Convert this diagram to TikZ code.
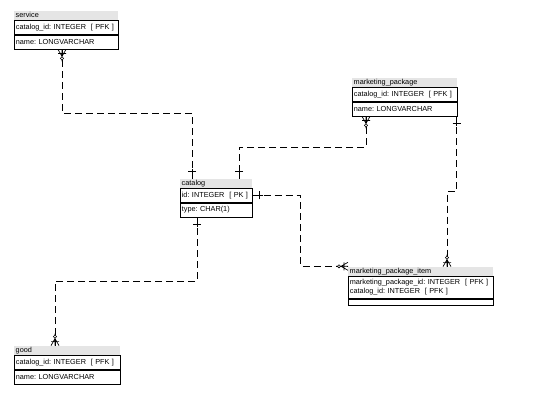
\documentclass[tikz,border=0pt]{standalone}
\usepackage{fontspec}
\setmainfont{Liberation Sans}
\usetikzlibrary{positioning}
\newcommand{\entfont}{\fontsize{7.3}{9.5}\selectfont\frenchspacing}
\begin{document}
\begin{tikzpicture}[x=1pt, y=-1pt,
        enttitle/.style={anchor=south west, fill=black!10, inner xsep=1.5pt, inner ysep=0.5pt, text width=#1, minimum height=9, align=left, font=\entfont},
        attrbox/.style={anchor=north west, draw=black, line width=0.7pt, inner xsep=1.5pt, inner ysep=1pt, text width=#1, minimum height=14, align=left, font=\entfont},
        rel/.style={line width=0.8pt, dash pattern=on 7pt off 4pt},
        manyend/.pic={\draw[line width=0.7pt] (-12,0) -- (0,0) (-7,0) -- (0,-4) (-7,0) -- (0,4) (-4,-4) -- (-4,4);
            \draw[line width=0.6pt, fill=white] (-9,0) circle (1.6);},
        oneend/.pic={\draw[line width=0.7pt] (-10,0) -- (0,0) (-7,-4) -- (-7,4);}
    ]
        \useasboundingbox (0,0) rectangle (540,402);

        % entities
        \node[enttitle=101] (svct) at (14,20) {service};
        \node[attrbox=101] (svca) at (svct.south west) {catalog\_id: INTEGER\ \ [ PFK ]};
        \node[attrbox=101] (svcn) at (svca.south west) {name: LONGVARCHAR};

        \node[enttitle=102] (mpt) at (352,87) {marketing\_package};
        \node[attrbox=102] (mpa) at (mpt.south west) {catalog\_id: INTEGER\ \ [ PFK ]};
        \node[attrbox=102] (mpn) at (mpa.south west) {name: LONGVARCHAR};

        \node[enttitle=69] (catt) at (180,188) {catalog};
        \node[attrbox=69] (cata) at (catt.south west) {id: INTEGER\ \ [ PK ]};
        \node[attrbox=69] (catn) at (cata.south west) {type: CHAR(1)};

        \node[enttitle=142] (itemt) at (348,276) {marketing\_package\_item};
        \node[attrbox=142, minimum height=22] (itema) at (itemt.south west) {marketing\_package\_id: INTEGER\ \ [ PFK ]\\catalog\_id: INTEGER\ \ [ PFK ]};
        \node[attrbox=142, minimum height=6] (itemn) at (itema.south west) {};

        \node[enttitle=103] (goodt) at (14,355) {good};
        \node[attrbox=103] (gooda) at (goodt.south west) {catalog\_id: INTEGER\ \ [ PFK ]};
        \node[attrbox=103] (goodn) at (gooda.south west) {name: LONGVARCHAR};

        % relationships
        \draw[rel] ([xshift=48]svcn.south west) -- ++(0,64) -| ([xshift=12]catt.north west);
        \draw[rel] ([xshift=14]mpn.south west) -- ++(0,31) -| ([xshift=59]catt.north west);
        \draw[rel] ([xshift=-1]mpn.south east) -- ++(0,75) -| ([xshift=99]itemt.north west);
        \draw[rel] (cata.east) -- ++(48,0) |- ([yshift=5]itemt.west);
        \draw[rel] ([xshift=17]catn.south west) -- ++(0,64) -| ([xshift=41]goodt.north west);

        % ends
        \pic[rotate=90] at ([xshift=48]svcn.south west) {manyend};
        \pic[rotate=-90] at ([xshift=12]catt.north west) {oneend};
        \pic[rotate=90] at ([xshift=14]mpn.south west) {manyend};
        \pic[rotate=-90] at ([xshift=59]catt.north west) {oneend};
        \pic[rotate=90] at ([xshift=-1]mpn.south east) {oneend};
        \pic[rotate=-90] at ([xshift=99]itemt.north west) {manyend};
        \pic[rotate=180] at (cata.east) {oneend};
        \pic at ([yshift=5]itemt.west) {manyend};
        \pic[rotate=90] at ([xshift=17]catn.south west) {oneend};
        \pic[rotate=-90] at ([xshift=41]goodt.north west) {manyend};
\end{tikzpicture}
\end{document}
